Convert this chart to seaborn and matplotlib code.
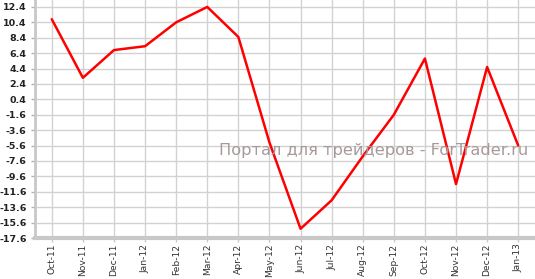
import matplotlib
matplotlib.use("Agg")
import matplotlib.pyplot as plt
import seaborn as sns
import pandas as pd

months = ["Oct-11", "Nov-11", "Dec-11", "Jan-12", "Feb-12", "Mar-12", "Apr-12", "May-12",
          "Jun-12", "Jul-12", "Aug-12", "Sep-12", "Oct-12", "Nov-12", "Dec-12", "Jan-13"]
values = [10.8, 3.2, 6.8, 7.3, 10.4, 12.4, 8.5, -5.2,
          -16.4, -12.7, -7.0, -1.6, 5.7, -10.6, 4.6, -5.6]
yticks = [12.4, 10.4, 8.4, 6.4, 4.4, 2.4, 0.4, -1.6, -3.6, -5.6, -7.6, -9.6, -11.6, -13.6, -15.6, -17.6]
watermark = "Портал для трейдеров - ForTrader.ru"

sns.set_theme(style="white")
plt.rcParams['font.family'] = ['DejaVu Sans']

df = pd.DataFrame({"x": range(len(months)), "v": values})

fig = plt.figure(figsize=(5.35, 2.79), dpi=100)
ax = fig.add_axes([35/535, 41/279, 500/535, 238/279])

gridc = "#d2d2d2"
ax.set_xticks(range(len(months)))
ax.set_xticklabels(months, rotation=90, fontsize=6.6, color="#333333")
ax.set_yticks(yticks)
ax.set_yticklabels([f"{t:.1f}" for t in yticks], fontsize=6.8, color="#222222", fontweight="bold")
ax.grid(True, color=gridc, linewidth=1.0)
ax.set_axisbelow(True)

sns.lineplot(data=df, x="x", y="v", color="#ff0000", linewidth=1.8, ax=ax)

ax.set_xlim(-0.54, 15.54)
ax.set_ylim(-17.6, 13.3)
ax.set_xlabel("")
ax.set_ylabel("")

for s in ["top", "right"]:
    ax.spines[s].set_visible(False)
ax.spines["left"].set_color("#c8c8c8")
ax.spines["left"].set_linewidth(2)
ax.spines["bottom"].set_color("#c8c8c8")
ax.spines["bottom"].set_linewidth(3)
ax.tick_params(axis="x", which="both", length=3, width=1, color="#c8c8c8", pad=1, bottom=True)
ax.tick_params(axis="y", which="both", length=3, width=1, color="#9fb4d0", pad=3, left=True)

ax.text(15.31, -6.2, watermark, fontsize=11.7, color="#a89a9a", ha="right", va="center")

fig.savefig("out.png", dpi=100)
